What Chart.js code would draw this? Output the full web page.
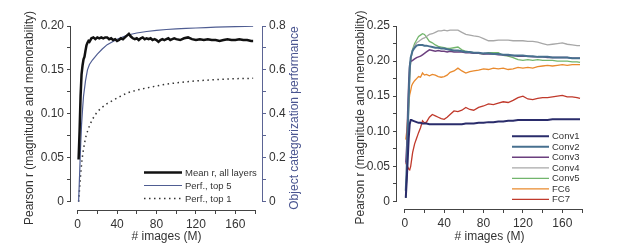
<!DOCTYPE html>
<html>
<head>
<meta charset="utf-8">
<script src="https://cdn.jsdelivr.net/npm/chart.js@4/dist/chart.umd.min.js"></script>
<style>
  body { margin: 0; background: #fff; }
  #wrap { position: relative; width: 617px; height: 250px; }
  canvas { position: absolute; top: 0; }
</style>
</head>
<body>
<div id="wrap">
  <canvas id="left" width="310" height="250" style="left:0"></canvas>
  <canvas id="right" width="307" height="250" style="left:310px"></canvas>
</div>
<script>
// ---- left panel data ----
const meanX = [1, 2, 3, 4, 5, 6, 7, 8, 9, 10, 11, 12, 14, 16, 18, 20, 22, 24, 26, 28, 30, 32, 34, 36, 38, 40,
  42, 44, 46, 48, 50, 52, 54, 56, 58, 60, 62, 64, 66, 68, 70, 72, 74, 76, 78, 80, 82, 84, 86, 88, 90, 92, 94, 96, 98,
  100, 104, 108, 112, 116, 120, 124, 128, 132, 136, 140, 144, 148, 152, 156, 160, 164, 168, 172, 176, 178];
const meanR = [0.048, 0.08, 0.12, 0.145, 0.155, 0.162, 0.165, 0.172, 0.178, 0.181, 0.183, 0.182, 0.186, 0.187, 0.185,
  0.187, 0.186, 0.187, 0.186, 0.187, 0.187, 0.185, 0.186, 0.184, 0.185, 0.183,
  0.184, 0.186, 0.185, 0.187, 0.189, 0.191, 0.188, 0.186, 0.185, 0.186, 0.184, 0.186, 0.187, 0.185, 0.186, 0.185,
  0.186, 0.184, 0.185, 0.184, 0.182, 0.184, 0.185, 0.184, 0.185, 0.186, 0.184, 0.185, 0.186,
  0.185, 0.184, 0.186, 0.187, 0.185, 0.184, 0.185, 0.184, 0.185, 0.184, 0.184, 0.183, 0.184, 0.185, 0.184,
  0.184, 0.185, 0.184, 0.184, 0.183, 0.183];

const perfX = [1, 2, 3, 4, 5, 6, 8, 10, 12, 15, 20, 25, 30, 40, 50, 60, 70, 80, 90, 100, 110, 120, 130, 140, 150, 160, 170, 178];
const perfTop5 = [0.0, 0.12, 0.25, 0.35, 0.42, 0.48, 0.55, 0.6, 0.625, 0.645, 0.672, 0.695, 0.715, 0.74, 0.758, 0.768,
  0.775, 0.78, 0.784, 0.787, 0.789, 0.791, 0.793, 0.795, 0.796, 0.797, 0.798, 0.799];
const perfTop1 = [0.0, 0.06, 0.12, 0.17, 0.21, 0.24, 0.29, 0.32, 0.345, 0.375, 0.41, 0.43, 0.447, 0.472, 0.495, 0.508,
  0.518, 0.527, 0.535, 0.541, 0.546, 0.55, 0.553, 0.556, 0.558, 0.56, 0.561, 0.562];

// ---- right panel data ----
const layerX = [1, 2, 3, 4, 5, 6, 7, 8, 10, 12, 14, 16, 18, 20, 22, 25, 28, 31, 34, 37, 40, 43, 46, 50, 54, 58, 62,
  66, 70, 75, 80, 85, 90, 95, 100, 105, 110, 115, 120, 125, 130, 135, 140, 145, 150, 155, 160, 165, 170, 175, 178];
const layerNames = ['Conv1', 'Conv2', 'Conv3', 'Conv4', 'Conv5', 'FC6', 'FC7'];
const conv1 = [0.005, 0.03, 0.06, 0.09, 0.11, 0.116, 0.116, 0.115, 0.114, 0.113, 0.112, 0.112, 0.111, 0.111, 0.111,
  0.110, 0.110, 0.110, 0.110, 0.110, 0.110, 0.110, 0.110, 0.110, 0.110, 0.110, 0.111, 0.111, 0.111, 0.112, 0.112,
  0.113, 0.113, 0.114, 0.114, 0.115, 0.115, 0.116, 0.116, 0.116, 0.116, 0.116, 0.116, 0.116, 0.117, 0.117, 0.117,
  0.117, 0.117, 0.117, 0.117];
const conv2 = [0.015, 0.05, 0.1, 0.15, 0.19, 0.205, 0.21, 0.215, 0.219, 0.222, 0.223, 0.223, 0.223, 0.222, 0.222,
  0.221, 0.220, 0.219, 0.219, 0.218, 0.218, 0.217, 0.216, 0.215, 0.215, 0.214, 0.213, 0.213, 0.212, 0.212, 0.211,
  0.211, 0.210, 0.210, 0.209, 0.209, 0.208, 0.208, 0.208, 0.207, 0.207, 0.206, 0.206, 0.206, 0.205, 0.205, 0.205,
  0.205, 0.204, 0.204, 0.204];
const conv3 = [0.055, 0.08, 0.13, 0.17, 0.195, 0.2, 0.2, 0.201, 0.203, 0.205, 0.206, 0.207, 0.209, 0.211, 0.213,
  0.216, 0.215, 0.214, 0.215, 0.214, 0.214, 0.213, 0.214, 0.213, 0.213, 0.213, 0.212, 0.212, 0.211, 0.211, 0.210,
  0.210, 0.210, 0.209, 0.209, 0.208, 0.208, 0.207, 0.207, 0.207, 0.206, 0.206, 0.206, 0.205, 0.205, 0.205, 0.205,
  0.205, 0.204, 0.204, 0.204];
const conv4 = [0.01, 0.04, 0.09, 0.14, 0.18, 0.2, 0.21, 0.215, 0.222, 0.226, 0.228, 0.230, 0.232, 0.233, 0.235,
  0.238, 0.239, 0.241, 0.243, 0.243, 0.244, 0.243, 0.244, 0.244, 0.244, 0.241, 0.238, 0.237, 0.236, 0.235, 0.232,
  0.229, 0.229, 0.230, 0.230, 0.230, 0.229, 0.229, 0.229, 0.228, 0.228, 0.227, 0.225, 0.223, 0.224, 0.225, 0.226,
  0.224, 0.223, 0.222, 0.222];
const conv5 = [0.005, 0.04, 0.09, 0.14, 0.18, 0.2, 0.21, 0.217, 0.225, 0.23, 0.235, 0.237, 0.239, 0.238, 0.234,
  0.228, 0.226, 0.223, 0.221, 0.220, 0.219, 0.218, 0.218, 0.219, 0.220, 0.216, 0.214, 0.213, 0.212, 0.211, 0.210,
  0.212, 0.212, 0.212, 0.208, 0.207, 0.205, 0.202, 0.201, 0.202, 0.201, 0.202, 0.201, 0.201, 0.201, 0.200, 0.200,
  0.200, 0.199, 0.199, 0.198];
const fc6 = [0.088, 0.1, 0.12, 0.14, 0.152, 0.158, 0.165, 0.168, 0.172, 0.175, 0.178, 0.177, 0.183, 0.18, 0.181,
  0.179, 0.181, 0.18, 0.178, 0.177, 0.178, 0.18, 0.184, 0.186, 0.19, 0.186, 0.183, 0.185, 0.186, 0.187, 0.189,
  0.188, 0.19, 0.189, 0.19, 0.188, 0.189, 0.191, 0.19, 0.191, 0.19, 0.192, 0.193, 0.194, 0.193, 0.194, 0.195,
  0.194, 0.195, 0.195, 0.195];
const fc7 = [0.055, 0.052, 0.049, 0.046, 0.045, 0.05, 0.06, 0.07, 0.082, 0.09, 0.098, 0.105, 0.115, 0.112, 0.113,
  0.12, 0.124, 0.122, 0.12, 0.118, 0.117, 0.12, 0.124, 0.129, 0.128, 0.13, 0.134, 0.131, 0.13, 0.134, 0.136,
  0.139, 0.138, 0.14, 0.142, 0.141, 0.144, 0.148, 0.15, 0.146, 0.145, 0.147, 0.148, 0.148, 0.149, 0.15, 0.151,
  0.149, 0.149, 0.148, 0.147];

// ---- ticks ----
const xTicks = [0, 20, 40, 60, 80, 100, 120, 140, 160, 180];
const xLabels = [0, 40, 80, 120, 160];
const yLeftTicks = [0, 0.025, 0.05, 0.075, 0.1, 0.125, 0.15, 0.175, 0.2];
const yLeftLabels = [0, 0.05, 0.1, 0.15, 0.2];
const yPerfTicks = [0, 0.1, 0.2, 0.3, 0.4, 0.5, 0.6, 0.7, 0.8];
const yPerfLabels = [0, 0.2, 0.4, 0.6, 0.8];
const yRightTicks = [0, 0.025, 0.05, 0.075, 0.1, 0.125, 0.15, 0.175, 0.2, 0.225, 0.25];
const yRightLabels = [0, 0.05, 0.1, 0.15, 0.2, 0.25];

const FONT = '"Liberation Sans", Arial, sans-serif';
const pts = (xs, ys) => xs.map((x, i) => ({ x: x, y: ys[i] }));
const has = (arr, v) => arr.some(a => Math.abs(a - v) < 1e-9);

// axis line only between first and last tick, leaving the corner open
const axisLines = {
  id: 'axisLines',
  afterDraw(chart) {
    const { ctx, chartArea } = chart;
    Object.values(chart.scales).forEach(s => {
      const t = s.ticks;
      if (!t.length) return;
      const a = s.getPixelForValue(t[0].value);
      const b = s.getPixelForValue(t[t.length - 1].value);
      ctx.save();
      ctx.strokeStyle = s.options.grid.color;
      ctx.lineWidth = 1;
      ctx.beginPath();
      if (s.isHorizontal()) {
        ctx.moveTo(a, chartArea.bottom + 0.5);
        ctx.lineTo(b, chartArea.bottom + 0.5);
      } else {
        const x = s.position === 'left' ? chartArea.left - 0.5 : chartArea.right + 0.5;
        ctx.moveTo(x, a);
        ctx.lineTo(x, b);
      }
      ctx.stroke();
      ctx.restore();
    });
  }
};

// right-side title that reads bottom to top, like the left one
const sideTitle = {
  id: 'sideTitle',
  afterDraw(chart, args, opts) {
    if (!opts.text) return;
    const { ctx, chartArea } = chart;
    ctx.save();
    ctx.translate(opts.x, (chartArea.top + chartArea.bottom) / 2);
    ctx.rotate(-Math.PI / 2);
    ctx.font = opts.font;
    ctx.fillStyle = opts.color;
    ctx.textAlign = 'center';
    ctx.textBaseline = 'middle';
    ctx.fillText(opts.text, 0, 0);
    ctx.restore();
  }
};

// small line key inside the plot
const lineKey = {
  id: 'lineKey',
  afterDraw(chart, args, opts) {
    const ctx = chart.ctx;
    ctx.save();
    ctx.font = opts.font;
    ctx.textBaseline = 'middle';
    ctx.fillStyle = '#333';
    chart.data.datasets.forEach((ds, i) => {
      const y = opts.y + i * opts.gap;
      ctx.strokeStyle = ds.borderColor;
      ctx.lineWidth = ds.borderWidth;
      ctx.setLineDash(ds.borderDash || []);
      ctx.beginPath();
      ctx.moveTo(opts.x, y);
      ctx.lineTo(opts.x + opts.len, y);
      ctx.stroke();
      ctx.setLineDash([]);
      ctx.fillText(ds.label, opts.x + opts.len + 3, y + 0.5);
    });
    ctx.restore();
  }
};

function axis(opts) {
  return {
    type: 'linear',
    position: opts.position,
    min: opts.min,
    max: opts.max,
    border: { display: false },
    grid: { drawOnChartArea: false, drawTicks: true, tickLength: 4, color: opts.color || '#444' },
    afterBuildTicks: s => { s.ticks = opts.ticks.map(v => ({ value: v })); },
    afterFit: s => { if (opts.size) { if (s.isHorizontal()) s.height = opts.size; else s.width = opts.size; } },
    ticks: {
      autoSkip: false, maxRotation: 0, padding: 3,
      color: '#333', font: { family: FONT, size: 12 },
      callback: v => has(opts.labels, v) ? (v === 0 ? '0' : v.toFixed(opts.digits)) : ''
    },
    title: {
      display: !!opts.title, text: opts.title, color: '#333',
      font: { family: FONT, size: 12 }, padding: opts.titlePad
    }
  };
}

new Chart(document.getElementById('left'), {
  type: 'line',
  data: {
    datasets: [
      { label: 'Mean r, all layers', data: pts(meanX, meanR), yAxisID: 'y', borderColor: '#111', borderWidth: 2.5, order: 1 },
      { label: 'Perf., top 5', data: pts(perfX, perfTop5), yAxisID: 'y1', borderColor: '#4f5d92', borderWidth: 1.2, order: 2 },
      { label: 'Perf., top 1', data: pts(perfX, perfTop1), yAxisID: 'y1', borderColor: '#333', borderWidth: 1.5, borderDash: [1.5, 3.5], order: 3 }
    ]
  },
  options: {
    responsive: false, animation: false,
    elements: { point: { radius: 0 }, line: { tension: 0 } },
    layout: { padding: { top: 26, left: 0, right: 0, bottom: 0 } },
    plugins: {
      legend: { display: false }, tooltip: { enabled: false },
      lineKey: { x: 144, y: 172.5, gap: 13, len: 38, font: '9.5px ' + FONT },
      sideTitle: { text: 'Object categorization performance', x: 295, color: '#4a5590', font: '12px ' + FONT }
    },
    scales: {
      x: axis({ position: 'bottom', min: -6.7, max: 187, ticks: xTicks, labels: xLabels, digits: 0,
        title: '# images (M)', titlePad: { top: 0, bottom: 6 }, size: 40 }),
      y: axis({ position: 'left', min: -0.0095, max: 0.2, ticks: yLeftTicks, labels: yLeftLabels, digits: 2,
        title: 'Pearson r (magnitude and memorability)', titlePad: { top: 22, bottom: 0 }, size: 71 }),
      y1: axis({ position: 'right', min: -0.038, max: 0.8, ticks: yPerfTicks, labels: yPerfLabels, digits: 1,
        title: '', size: 48, color: '#5b6494' })
    }
  },
  plugins: [axisLines, lineKey, sideTitle]
});

const layerColors = ['#2a2c6b', '#47708f', '#6b3f7e', '#a8a8a8', '#72b56c', '#e98a2d', '#c0392b'];
const layerWidths = [2, 2, 1.5, 1.3, 1.3, 1.3, 1.3];
const layerData = [conv1, conv2, conv3, conv4, conv5, fc6, fc7];

new Chart(document.getElementById('right'), {
  type: 'line',
  data: {
    datasets: layerNames.map((name, i) => ({
      label: name, data: pts(layerX, layerData[i]),
      borderColor: layerColors[i], borderWidth: layerWidths[i]
    }))
  },
  options: {
    responsive: false, animation: false,
    elements: { point: { radius: 0 }, line: { tension: 0 } },
    layout: { padding: { top: 26, left: 0, right: 35, bottom: 0 } },
    plugins: {
      legend: { display: false }, tooltip: { enabled: false },
      lineKey: { x: 202, y: 136.3, gap: 10.5, len: 37, font: '9.5px ' + FONT }
    },
    scales: {
      x: axis({ position: 'bottom', min: -7.9, max: 180, ticks: xTicks, labels: xLabels, digits: 0,
        title: '# images (M)', titlePad: { top: 0, bottom: 6 }, size: 41 }),
      y: axis({ position: 'left', min: -0.0108, max: 0.25, ticks: yRightTicks, labels: yRightLabels, digits: 2,
        title: 'Pearson r (magnitude and memorability)', titlePad: { top: 43, bottom: 0 }, size: 87 })
    }
  },
  plugins: [axisLines, lineKey]
});
</script>
</body>
</html>
